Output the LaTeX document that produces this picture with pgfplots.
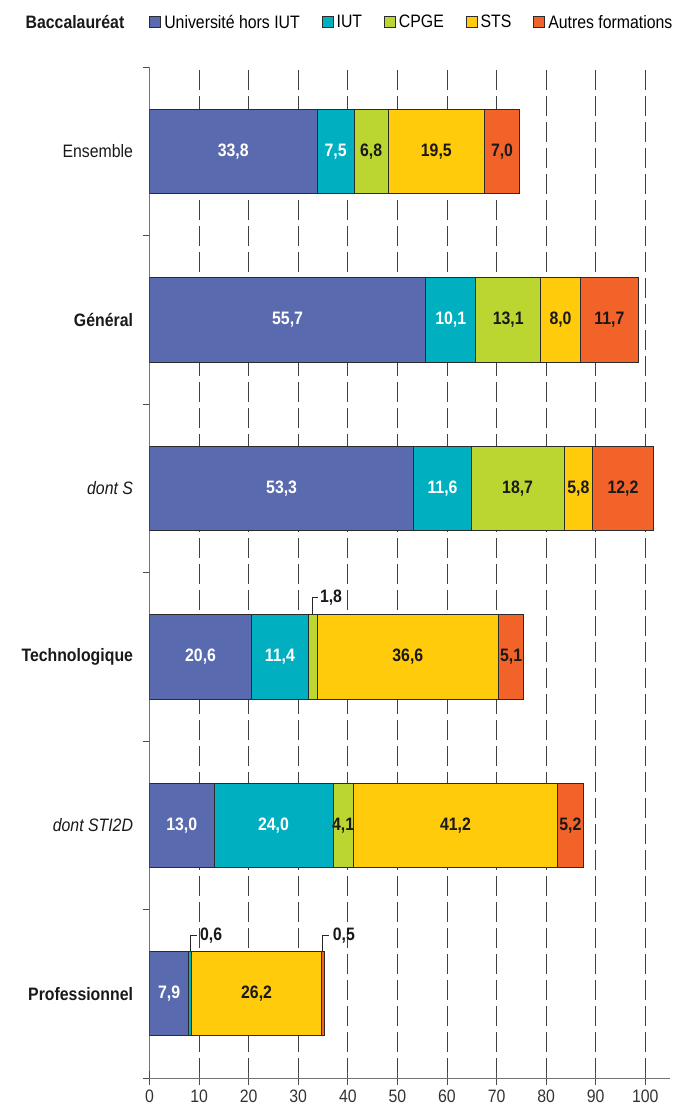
\documentclass[border=0pt]{standalone}
\usepackage{fontspec}
\setmainfont{Liberation Sans}[FakeStretch=0.88]
\usepackage{pgfplots}
\pgfplotsset{compat=1.18}
\usepackage{pgfplotstable}

\definecolor{cUni}{HTML}{5A6AAF}
\definecolor{cIUT}{HTML}{00B0C1}
\definecolor{cCPGE}{HTML}{BCD631}
\definecolor{cSTS}{HTML}{FFCB0A}
\definecolor{cAut}{HTML}{F26329}
\definecolor{edge}{HTML}{2B2B2B}

% values and the labels written inside each segment ({} = label drawn outside)
\pgfplotstableread{
y uni iut cpge sts aut luni liut lcpge lsts laut
5 33.8 7.5 6.8 19.5 7.0 33,8 7,5 6,8 19,5 7,0
4 55.7 10.1 13.1 8.0 11.7 55,7 10,1 13,1 8,0 11,7
3 53.3 11.6 18.7 5.8 12.2 53,3 11,6 18,7 5,8 12,2
2 20.6 11.4 1.8 36.6 5.1 20,6 11,4 {} 36,6 5,1
1 13.0 24.0 4.1 41.2 5.2 13,0 24,0 4,1 41,2 5,2
0 7.9 0.6 0.0 26.2 0.5 7,9 {} {} 26,2 {}
}\bardata

\begin{document}
\begin{tikzpicture}[font=\fontsize{18}{21.6}\selectfont]
\begin{axis}[
  name=ax,
  scale only axis, width=520.6pt, height=1010.7pt,
  xmin=0, xmax=105, ymin=-0.5, ymax=5.5,
  xbar stacked, bar width=0.5,
  axis x line=bottom, axis y line=left,
  axis line style={-, draw=black!55, line width=0.8pt},
  tick align=outside, major tick length=7pt,
  tick style={draw=black!70, line width=0.8pt},
  xtick={0,10,...,100},
  extra x ticks={0,10,...,100}, extra x tick labels={},
  extra x tick style={tick align=inside, grid=none},
  ytick={-0.5,0.5,...,5.5}, yticklabels={},
  extra y ticks={0,1,2,3,4,5},
  extra y tick labels={\textbf{Professionnel},\textit{dont STI2D},\textbf{Technologique},\textit{dont S},\textbf{Général},Ensemble},
  extra y tick style={major tick length=0pt},
  yticklabel style={anchor=east, xshift=-13pt, text=black!90},
  xticklabel style={anchor=north, yshift=-1pt, text=black!80},
  /pgf/number format/assume math mode=true,
  xmajorgrids, ymajorgrids=false,
  major grid style={dash pattern=on 20pt off 6pt, draw=black!75, line width=0.9pt},
  legend columns=5,
  legend style={at={(axis description cs:0,1)}, anchor=west, yshift=45pt,
    draw=none, fill=none, inner sep=0pt, outer sep=0pt,
    nodes={inner sep=0pt, anchor=west},
    /tikz/every odd column/.append style={column sep=3pt},
    /tikz/every even column/.append style={column sep=22pt}},
  legend image code/.code={\draw[#1, draw=edge, line width=0.8pt] (0pt,-5.5pt) rectangle (11pt,5.5pt);},
  every axis plot/.append style={draw=edge, line width=0.8pt},
  nodes near coords, point meta=explicit symbolic,
  every node near coord/.append style={anchor=center, inner sep=0pt,
    font=\fontsize{18}{21.6}\selectfont\bfseries},
]
\addplot[fill=cUni, every node near coord/.append style={text=white}]
  table[x=uni, y=y, meta=luni] {\bardata};
\addplot[fill=cIUT, every node near coord/.append style={text=white}]
  table[x=iut, y=y, meta=liut] {\bardata};
\addplot[fill=cCPGE, every node near coord/.append style={text=black!90}]
  table[x=cpge, y=y, meta=lcpge] {\bardata};
\addplot[fill=cSTS, every node near coord/.append style={text=black!90}]
  table[x=sts, y=y, meta=lsts] {\bardata};
\addplot[fill=cAut, every node near coord/.append style={text=black!90}]
  table[x=aut, y=y, meta=laut] {\bardata};
\legend{Université hors IUT, IUT, CPGE, STS, Autres formations}

\addplot[stack plots=false, forget plot, sharp plot, mark=none, nodes near coords={},
  draw=black!85, line width=0.9pt]
  coordinates {(32.9,2.25) (32.9,2.35) (33.9,2.35)}
  node[pos=1, anchor=west, inner sep=0pt, xshift=2pt, text=black!90,
    font=\fontsize{18}{21.6}\selectfont\bfseries] {1,8};
\addplot[stack plots=false, forget plot, sharp plot, mark=none, nodes near coords={},
  draw=black!85, line width=0.9pt]
  coordinates {(8.2,0.25) (8.2,0.348) (9.5,0.348)}
  node[pos=1, anchor=west, inner sep=0pt, xshift=3pt, text=black!90,
    font=\fontsize{18}{21.6}\selectfont\bfseries] {0,6};
\addplot[stack plots=false, forget plot, sharp plot, mark=none, nodes near coords={},
  draw=black!85, line width=0.9pt]
  coordinates {(34.95,0.25) (34.95,0.348) (36.3,0.348)}
  node[pos=1, anchor=west, inner sep=0pt, xshift=3pt, text=black!90,
    font=\fontsize{18}{21.6}\selectfont\bfseries] {0,5};
\end{axis}
\node[anchor=east, inner sep=0pt, font=\fontsize{18}{21.6}\selectfont\bfseries, text=black!90]
  at ([xshift=-25pt, yshift=45pt]ax.north west) {Baccalauréat};
\path[use as bounding box] (-149.5pt,-32pt) rectangle (525.5pt,1078pt);
\end{tikzpicture}
\end{document}
